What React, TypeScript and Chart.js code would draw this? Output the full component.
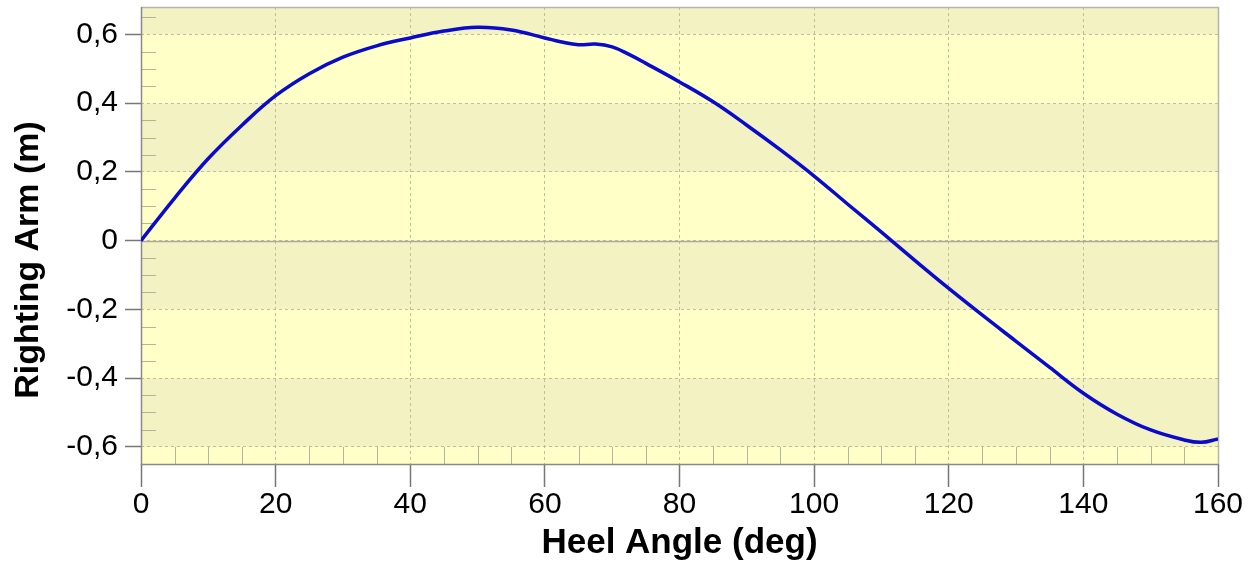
import React, { useEffect, useRef } from 'react';
import { Chart, registerables } from 'chart.js';

Chart.register(...registerables);

// ---- data ----
const heelAngles = [0, 5, 10, 15, 20, 25, 30, 35, 40, 45, 50, 55, 60, 62.5, 65, 67.5, 70, 72.5, 75, 80, 85, 90, 95, 100, 105, 110, 115, 120, 125, 130, 135, 140, 145, 150, 155, 157.5, 160];
const rightingArm = [0, 0.124, 0.239, 0.336, 0.422, 0.486, 0.534, 0.567, 0.59, 0.61, 0.621, 0.613, 0.59, 0.578, 0.57, 0.572, 0.564, 0.542, 0.516, 0.462, 0.404, 0.336, 0.264, 0.188, 0.106, 0.025, -0.058, -0.139, -0.217, -0.293, -0.369, -0.444, -0.505, -0.551, -0.58, -0.587, -0.577];

const xTickValues = [0, 20, 40, 60, 80, 100, 120, 140, 160];
const xTickLabels = ['0', '20', '40', '60', '80', '100', '120', '140', '160'];
const yTickValues = [-0.6, -0.4, -0.2, 0, 0.2, 0.4, 0.6];
const yTickLabels = ['-0,6', '-0,4', '-0,2', '0', '0,2', '0,4', '0,6'];
const xMinorTicks = [5, 10, 15, 25, 30, 35, 45, 50, 55, 65, 70, 75, 85, 90, 95, 105, 110, 115, 125, 130, 135, 145, 150, 155];
const yMinorTicks = [-0.55, -0.5, -0.45, -0.35, -0.3, -0.25, -0.15, -0.1, -0.05, 0.05, 0.1, 0.15, 0.25, 0.3, 0.35, 0.45, 0.5, 0.55, 0.65];

const X_MIN = 0;
const X_MAX = 160;
const Y_MIN = -0.65;
const Y_MAX = 0.68;

const xTitle = 'Heel Angle (deg)';
const yTitle = 'Righting Arm (m)';

const FONT = '"Liberation Sans", Arial, Helvetica, sans-serif';

const BAND_LIGHT = '#ffffc8';
const BAND_DARK = '#f3f2c2';
const GRID_COLOR = 'rgba(185,180,140,0.85)';

const decorPlugin = {
  id: 'decor',
  beforeDraw(chart: any) {
    const { ctx, chartArea } = chart;
    const ys = chart.scales.y;
    const edges = [Y_MIN, ...yTickValues, Y_MAX];
    ctx.save();
    for (let i = 0; i < edges.length - 1; i++) {
      const yTop = ys.getPixelForValue(edges[i + 1]);
      const yBot = ys.getPixelForValue(edges[i]);
      ctx.fillStyle = i % 2 === 0 ? BAND_LIGHT : BAND_DARK;
      ctx.fillRect(chartArea.left, yTop, chartArea.right - chartArea.left, yBot - yTop);
    }
    ctx.restore();
  },
  beforeDatasetsDraw(chart: any) {
    const { ctx, chartArea } = chart;
    const xs = chart.scales.x;
    const ys = chart.scales.y;
    ctx.save();
    // minor ticks
    ctx.strokeStyle = 'rgba(150,150,135,0.7)';
    ctx.lineWidth = 1;
    ctx.beginPath();
    yMinorTicks.forEach((v) => {
      const py = Math.round(ys.getPixelForValue(v)) + 0.5;
      ctx.moveTo(chartArea.left, py);
      ctx.lineTo(chartArea.left + 15, py);
    });
    xMinorTicks.forEach((v) => {
      const px = Math.round(xs.getPixelForValue(v)) + 0.5;
      ctx.moveTo(px, chartArea.bottom);
      ctx.lineTo(px, chartArea.bottom - 17);
    });
    ctx.stroke();
    // zero line
    const y0 = Math.round(ys.getPixelForValue(0)) + 0.5;
    ctx.strokeStyle = '#aaaa9c';
    ctx.lineWidth = 1.5;
    ctx.beginPath();
    ctx.moveTo(chartArea.left, y0);
    ctx.lineTo(chartArea.right, y0);
    ctx.stroke();
    // frame
    ctx.lineWidth = 1.5;
    ctx.strokeStyle = '#b4b4ac';
    ctx.beginPath();
    ctx.moveTo(chartArea.left, chartArea.top + 0.5);
    ctx.lineTo(chartArea.right + 0.5, chartArea.top + 0.5);
    ctx.lineTo(chartArea.right + 0.5, chartArea.bottom);
    ctx.stroke();
    ctx.strokeStyle = '#8a8a84';
    ctx.beginPath();
    ctx.moveTo(chartArea.left + 0.5, chartArea.top);
    ctx.lineTo(chartArea.left + 0.5, chartArea.bottom + 0.5);
    ctx.lineTo(chartArea.right + 0.5, chartArea.bottom + 0.5);
    ctx.stroke();
    ctx.restore();
  },
  afterDraw(chart: any) {
    const { ctx, chartArea } = chart;
    ctx.save();
    ctx.fillStyle = '#000';
    ctx.font = `bold 35px ${FONT}`;
    ctx.textAlign = 'center';
    ctx.textBaseline = 'alphabetic';
    ctx.fillText(xTitle, (chartArea.left + chartArea.right) / 2, 553);
    ctx.translate(38, 260);
    ctx.rotate(-Math.PI / 2);
    ctx.font = `bold 34px ${FONT}`;
    ctx.fillText(yTitle, 0, 0);
    ctx.restore();
  },
};

export default function App() {
  const canvasRef = useRef<HTMLCanvasElement | null>(null);

  useEffect(() => {
    if (!canvasRef.current) return;
    const chart = new Chart(canvasRef.current, {
      type: 'line',
      data: {
        datasets: [
          {
            data: heelAngles.map((a, i) => ({ x: a, y: rightingArm[i] })),
            borderColor: 'rgb(10,10,205)',
            borderWidth: 3.5,
            pointRadius: 0,
            fill: false,
            tension: 0.4,
          } as any,
        ],
      },
      options: {
        animation: false,
        responsive: false,
        events: [],
        layout: { padding: { left: 0, right: 40, top: 7, bottom: 0 } },
        plugins: { legend: { display: false }, tooltip: { enabled: false } },
        scales: {
          x: {
            type: 'linear',
            min: X_MIN,
            max: X_MAX,
            afterBuildTicks: (scale: any) => {
              scale.ticks = xTickValues.map((v) => ({ value: v }));
            },
            afterFit: (scale: any) => {
              scale.height = 104;
              scale.paddingLeft = 0;
              scale.paddingRight = 0;
            },
            ticks: {
              autoSkip: false,
              maxRotation: 0,
              padding: 0,
              color: '#000',
              font: { family: FONT, size: 30 },
              callback: (_v: any, i: number) => xTickLabels[i],
            },
            grid: {
              color: GRID_COLOR,
              lineWidth: 1,
              tickLength: 23,
              tickColor: '#777777',
              tickWidth: 1.5,
            },
            border: { display: false, dash: [3, 3] },
          },
          y: {
            type: 'linear',
            min: Y_MIN,
            max: Y_MAX,
            afterBuildTicks: (scale: any) => {
              scale.ticks = yTickValues.map((v) => ({ value: v }));
            },
            afterFit: (scale: any) => {
              scale.width = 141;
              scale.paddingTop = 0;
              scale.paddingBottom = 0;
            },
            ticks: {
              autoSkip: false,
              padding: 7,
              color: '#000',
              font: { family: FONT, size: 30 },
              callback: (_v: any, i: number) => yTickLabels[i],
            },
            grid: {
              color: GRID_COLOR,
              lineWidth: 1,
              tickLength: 16,
              tickColor: '#777777',
              tickWidth: 1.5,
            },
            border: { display: false, dash: [3, 3] },
          },
        },
      },
      plugins: [decorPlugin],
    });
    return () => chart.destroy();
  }, []);

  return (
    <div style={{ position: 'absolute', left: 0, top: 0, width: 1258, height: 568, background: '#fff' }}>
      <canvas ref={canvasRef} width={1258} height={568} style={{ display: 'block' }} />
    </div>
  );
}
